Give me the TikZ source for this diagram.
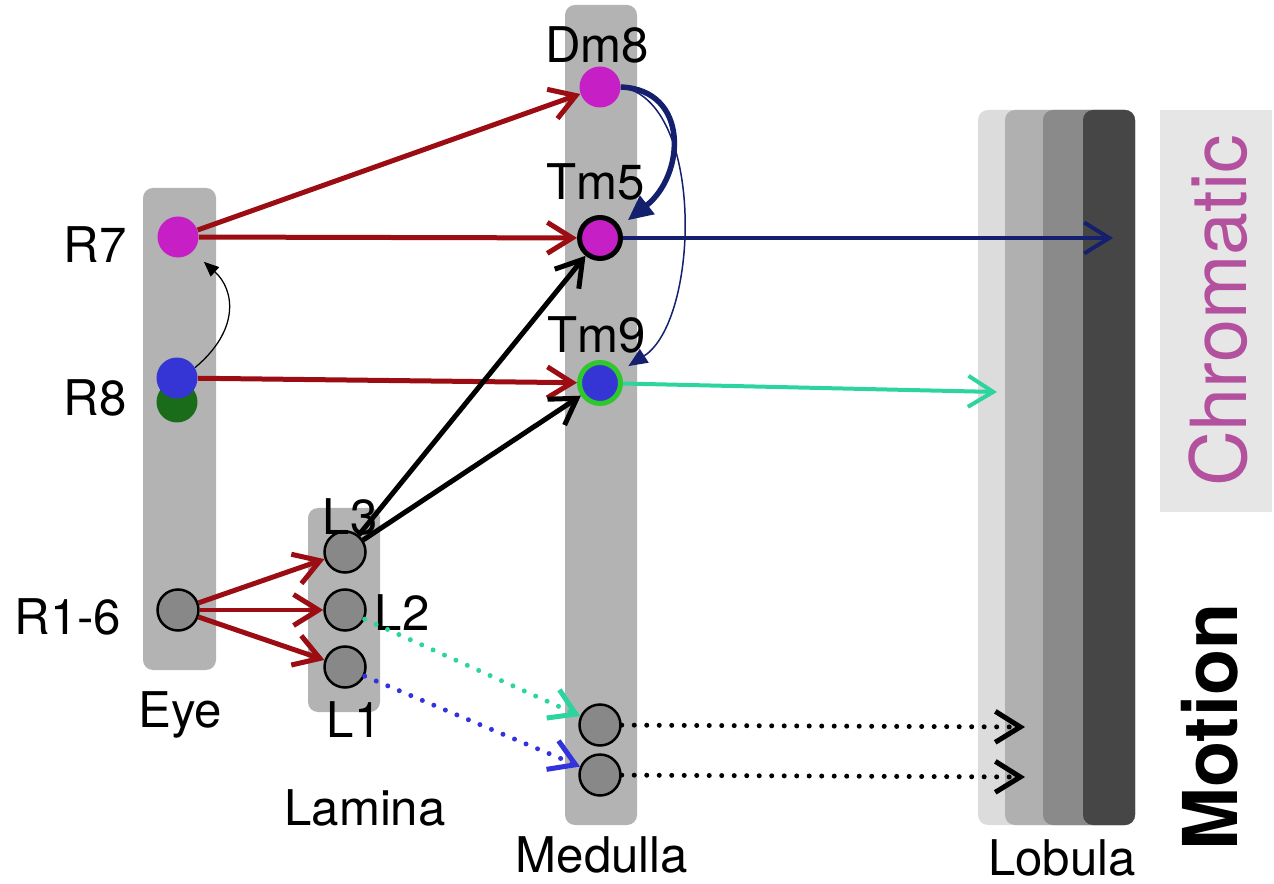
\documentclass[tikz,border=0pt]{standalone}
\usepackage{fontspec}
\setmainfont{TeX Gyre Heros}
\usetikzlibrary{arrows.meta}
\definecolor{arrowred}{HTML}{9B0D12}
\definecolor{navyblue}{HTML}{14206E}
\definecolor{tealgreen}{HTML}{2DD4A0}
\definecolor{dotblue}{HTML}{3333DD}
\definecolor{cellmagenta}{HTML}{C51FC5}
\definecolor{cellblue}{HTML}{3535D5}
\definecolor{cellgreen}{HTML}{1A6B1A}
\definecolor{ringgreen}{HTML}{2EC72E}
\definecolor{cellgray}{HTML}{888888}
\definecolor{bargray}{HTML}{B3B3B3}
\definecolor{lobA}{HTML}{DCDCDC}
\definecolor{lobB}{HTML}{B0B0B0}
\definecolor{lobC}{HTML}{8A8A8A}
\definecolor{lobD}{HTML}{464646}
\definecolor{chromabox}{HTML}{E6E6E6}
\definecolor{chromatext}{HTML}{B3519F}
\begin{document}
\begin{tikzpicture}
[x=0.02cm, y=-0.02cm,
  cellnode/.style={shape=circle,minimum size=0.82cm,inner sep=0pt},%
  graycell/.style={cellnode,fill=cellgray,draw=black,line width=0.05cm},%
  barbox/.style={fill=bargray,rounded corners=0.2cm},%
  labeltext/.style={font=\fontsize{28}{32}\selectfont,inner sep=0pt},%
  opentip/.style={-{Straight Barb[length=0.5cm,width=0.62cm]}},%
  redline/.style={opentip,draw=arrowred,line width=0.1cm},%
  blackline/.style={opentip,draw=black,line width=0.1cm},%
  navyline/.style={opentip,draw=navyblue,line width=0.08cm},%
  tealline/.style={opentip,draw=tealgreen,line width=0.08cm},%
  dotline/.style={opentip,line width=0.1cm,line cap=round,dash pattern=on 0pt off 0.25cm},%
  navycurve/.style={-{Triangle[length=0.5cm,width=0.45cm]},draw=navyblue,line width=0.11cm},%
  thincurve/.style={-{Triangle[length=0.38cm,width=0.32cm]},draw=navyblue,line width=0.03cm}]
\useasboundingbox (0,0) rectangle (1274,884);
%% bars of eye, lamina and medulla
\foreach \xa/\ya/\xb/\yb in {143/188/216/670, 308/508/380/712, 565/5/637/825} {
  \path[barbox] (\xa,\ya) rectangle (\xb,\yb);
}
%% lobula layers
\foreach \xa/\shade in {978/lobA, 1005/lobB, 1043/lobC, 1083/lobD} {
  \fill[\shade,rounded corners=0.2cm] (\xa,110) rectangle (1135,825);
}
\fill[chromabox] (1160,110) rectangle (1272,512);
\node (chromatic) at (1218,311) [rotate=90,text=chromatext,font=\fontsize{44}{48}\selectfont] {Chromatic};
\node (motion) at (1210,727) [rotate=90,font=\fontsize{43}{48}\selectfont\bfseries] {Motion};
%% cells
\node (r8g) at (177,402) [cellnode,fill=cellgreen] {};
\node (r8) at (177,378) [cellnode,fill=cellblue] {};
\node (r7) at (178,237) [cellnode,fill=cellmagenta] {};
\node (dmeight) at (600,87) [cellnode,fill=cellmagenta] {};
\node (tmfive) at (600,238) [cellnode,fill=cellmagenta,draw=black,line width=0.1cm] {};
\node (tmnine) at (600,383) [cellnode,fill=cellblue,draw=ringgreen,line width=0.1cm] {};
\foreach \nodename/\x/\y in {rsix/178/610, lthree/345/552, ltwo/345/610, lone/345/667, mota/600/725, motb/600/775} {
  \node (\nodename) at (\x,\y) [graycell] {};
}
%% labels
\foreach \nodename/\x/\y/\txt in {lr7/95/245/R7, lr8/95/398/R8, lrsix/68/617/R1-6, leye/180/715/Eye,
  llamina/365/808/Lamina, lmedulla/602/855/Medulla, llobula/1062/858/Lobula, ldm8/597/45/Dm8,
  ltm5/596/182/Tm5, ltm9/597/335/Tm9, ll3/350/517/L3, ll2/402/613/L2, ll1/354/720/L1} {
  \node (\nodename) at (\x,\y) [labeltext] {\txt};
}
%% free ends in the lobula
\coordinate (tmfiveend) at (1113,238);
\coordinate (tmnineend) at (997,392);
\coordinate (motaend) at (1025,727);
\coordinate (motbend) at (1025,777);
%% connections
\path
\foreach \startnode/\endnode in {r7/dmeight, r7/tmfive, r8/tmnine, rsix/lthree, rsix/ltwo, rsix/lone} {
  (\startnode) edge[redline] (\endnode)
}
\foreach \startnode/\endnode in {lthree/tmfive, lthree/tmnine} {
  (\startnode) edge[blackline] (\endnode)
};
\draw[navyline] (tmfive) -- (tmfiveend);
\draw[tealline] (tmnine) -- (tmnineend);
\draw[dotline,draw=tealgreen] (ltwo.-25) -- (mota);
\draw[dotline,draw=dotblue] (lone.-25) -- (motb);
\draw[dotline,draw=black] (mota) -- (motaend);
\draw[dotline,draw=black] (motb) -- (motbend);
\draw[navycurve,shorten >=0.2cm] (dmeight.east) .. controls (690,90) and (685,175) .. (tmfive.30);
\draw[thincurve,shorten >=0.2cm] (dmeight.east) .. controls (705,100) and (700,320) .. (tmnine.30);
\draw[-{Triangle[length=0.3cm,width=0.25cm]},line width=0.025cm,shorten >=0.3cm] (r8.30) .. controls (240,330) and (235,290) .. (r7.south east);
\end{tikzpicture}
\end{document}
